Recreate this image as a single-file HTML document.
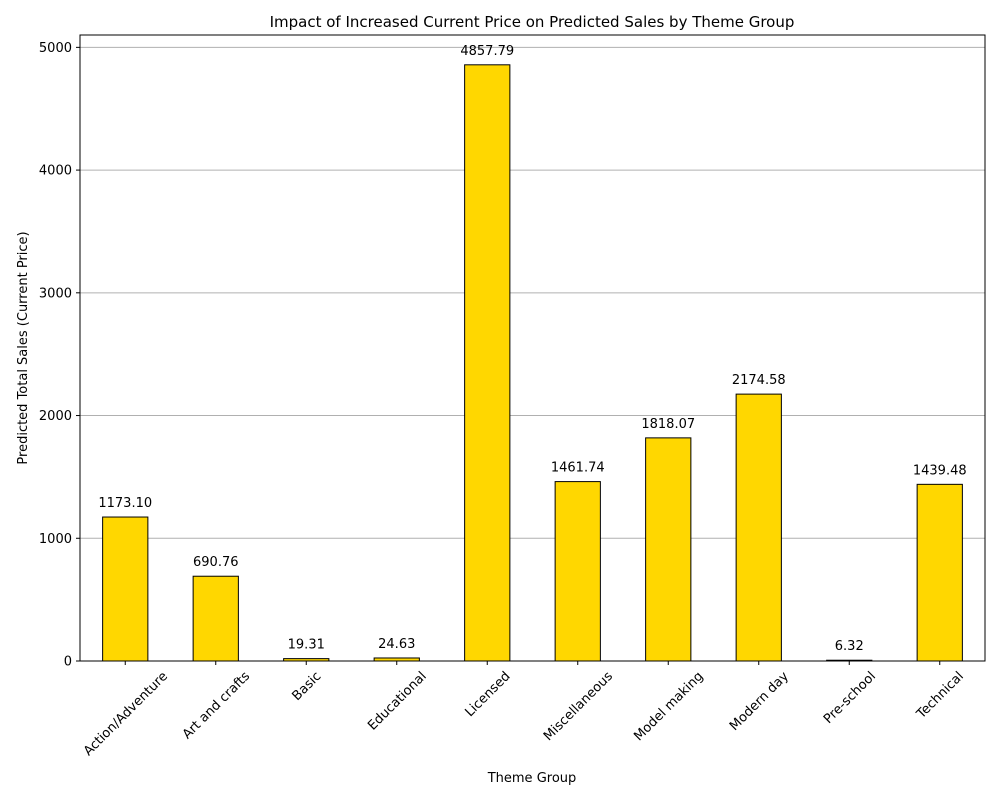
<!DOCTYPE html>
<html><head><meta charset="utf-8"><style>
body{margin:0;background:#fff;font-family:"Liberation Sans","DejaVu Sans",sans-serif;}
svg text{font-family:"DejaVu Sans","Liberation Sans",sans-serif;}
</style></head><body>
<svg id="chart" width="1000" height="800" xmlns="http://www.w3.org/2000/svg">
<text x="532" y="27" font-size="15" text-anchor="middle">Impact of Increased Current Price on Predicted Sales by Theme Group</text>
<g id="grid"></g><g id="bars"></g><g id="axes"></g>
<text x="532" y="782" font-size="13" text-anchor="middle">Theme Group</text>
<text transform="translate(27,348) rotate(-90)" font-size="13" text-anchor="middle">Predicted Total Sales (Current Price)</text>
</svg>
<script>
const categories=["Action/Adventure","Art and crafts","Basic","Educational","Licensed","Miscellaneous","Model making","Modern day","Pre-school","Technical"];
const values=[1173.10,690.76,19.31,24.63,4857.79,1461.74,1818.07,2174.58,6.32,1439.48];
const yTicks=[0,1000,2000,3000,4000,5000];
const L=80,R=985,T=35,B=661;
const ymax=Math.max(...values)*1.05;
const ns="http://www.w3.org/2000/svg";
function y(v){return B-(v/ymax)*(B-T);}
const step=(R-L)/categories.length;
function x(i){return L+step*(i+0.5);}
function mk(tag,attrs,parent,txt){const e=document.createElementNS(ns,tag);for(const k in attrs)e.setAttribute(k,attrs[k]);if(txt!==undefined)e.textContent=txt;document.getElementById(parent).appendChild(e);return e;}
yTicks.forEach(t=>{
 const g=mk("line",{x1:L,x2:R,y1:y(t),y2:y(t),stroke:"#b0b0b0","stroke-width":1},"grid");
 
 
 mk("line",{x1:L-4,x2:L,y1:y(t),y2:y(t),stroke:"#000"},"axes");
 const l=mk("text",{x:L-8,y:y(t)+4.5,"font-size":13,"text-anchor":"end"},"axes",t);
 
 
});
categories.forEach((c,i)=>{
 const bw=step*0.5;
 const r=mk("rect",{x:x(i)-bw/2,y:y(values[i]),width:bw,height:B-y(values[i]),fill:"#ffd700",stroke:"#000","stroke-width":1},"bars");
 
 
 const v=mk("text",{x:x(i),y:y(values[i])-10,"font-size":13,"text-anchor":"middle"},"bars",values[i].toFixed(2));
 
 
 mk("line",{x1:x(i),x2:x(i),y1:B,y2:B+4,stroke:"#000"},"axes");
 const t=mk("text",{"font-size":13,"text-anchor":"middle"},"axes",c);
 
 
 const w=t.getComputedTextLength();
 const h=(w+13)*0.7071;
 const cy=B+8+h/2;
 t.setAttribute('transform',`translate(${x(i)},${cy}) rotate(-45)`);
 t.setAttribute('y',4.5);
});
const f=mk("rect",{x:L,y:T,width:R-L,height:B-T,fill:"none",stroke:"#000","stroke-width":1},"axes");


</script>
</body></html>
